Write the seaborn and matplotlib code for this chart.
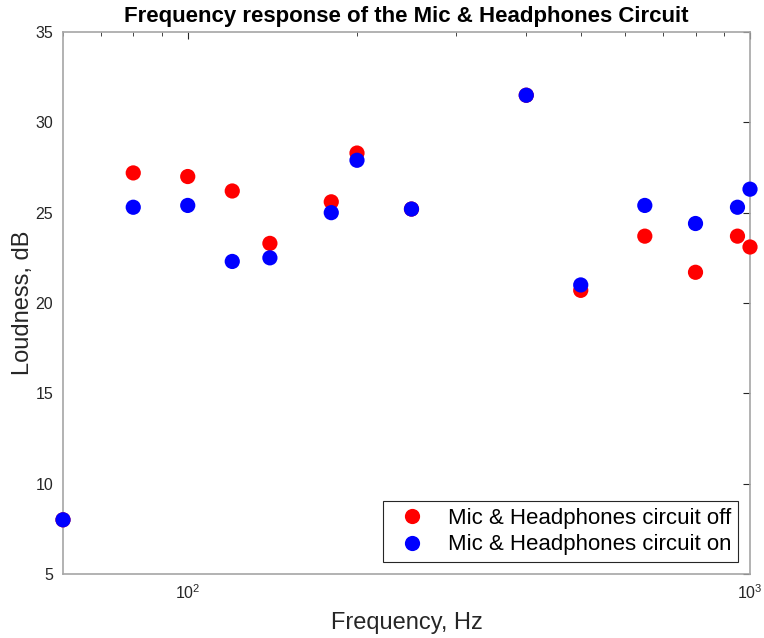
import numpy as np
import pandas as pd
import matplotlib
matplotlib.use('Agg')
import matplotlib.pyplot as plt
import seaborn as sns

# frequencies in Hz
freq = [60, 80, 100, 120, 140, 180, 200, 250, 400, 500, 650, 800, 950, 1000]
# loudness in dB, circuit off / on
loud_off = [8.0, 27.2, 27.0, 26.2, 23.3, 25.6, 28.3, 25.2, 31.5, 20.7, 23.7, 21.7, 23.7, 23.1]
loud_on = [8.0, 25.3, 25.4, 22.3, 22.5, 25.0, 27.9, 25.2, 31.5, 21.0, 25.4, 24.4, 25.3, 26.3]

label_off = 'Mic & Headphones circuit off'
label_on = 'Mic & Headphones circuit on'

df = pd.DataFrame({
    'freq': freq + freq,
    'loud': loud_off + loud_on,
    'state': [label_off] * len(freq) + [label_on] * len(freq),
})

sns.set_style('white')
plt.rcParams['font.family'] = ['Liberation Sans', 'DejaVu Sans']
plt.rcParams['mathtext.fontset'] = 'custom'
plt.rcParams['mathtext.rm'] = 'Liberation Sans'

fig = plt.figure(figsize=(7.64, 6.38), dpi=100)
ax = fig.add_axes([63 / 764, 1 - 574 / 638, (750 - 63) / 764, (574 - 32) / 638])

sns.scatterplot(data=df, x='freq', y='loud', hue='state',
                palette={label_off: '#ff0000', label_on: '#0000ff'},
                s=120, linewidth=0, ax=ax, clip_on=False, zorder=3)

ax.set_xscale('log')
ax.set_xlim(60, 1000)
ax.set_ylim(5, 35)
ax.set_yticks(range(5, 36, 5))

for side in ax.spines.values():
    side.set_color('#a6a6a6')
    side.set_linewidth(1.2)
ax.tick_params(which='both', direction='in', top=True, right=True,
               colors='#262626', labelsize=11.5, pad=7)
ax.tick_params(which='major', length=5)
ax.tick_params(which='minor', length=3)

ax.set_title('Frequency response of the Mic & Headphones Circuit',
             fontsize=16, fontweight='bold', color='black', pad=7)
ax.set_xlabel('Frequency, Hz', fontsize=17, color='#262626', labelpad=7)
ax.set_ylabel('Loudness, dB', fontsize=17, color='#262626', labelpad=1)

leg = ax.legend(loc='lower right', fontsize=16, frameon=True, fancybox=False,
                edgecolor='#262626', framealpha=1, borderpad=0.3,
                handlelength=2.0, handletextpad=0.6, labelspacing=0.25,
                borderaxespad=0, bbox_to_anchor=(0.9825, 0.022))
leg.get_frame().set_linewidth(0.8)
for t in leg.get_texts():
    t.set_color('black')

fig.savefig('out.png', dpi=100)
